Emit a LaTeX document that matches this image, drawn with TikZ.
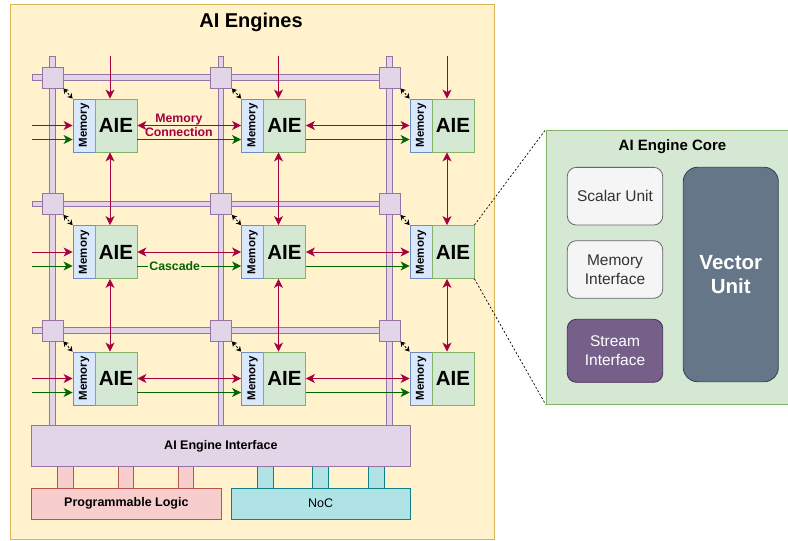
\documentclass[tikz,border=0pt]{standalone}
\usepackage{fontspec}
\setmainfont{Liberation Sans}
\usepackage{graphicx}
\usetikzlibrary{arrows.meta,calc}
\definecolor{bgY}{HTML}{FFF2CC}
\definecolor{bgYs}{HTML}{D6B656}
\definecolor{purpleF}{HTML}{E1D5E7}
\definecolor{purpleS}{HTML}{9673A6}
\definecolor{memF}{HTML}{DAE8FC}
\definecolor{memS}{HTML}{6C8EBF}
\definecolor{aieF}{HTML}{D5E8D4}
\definecolor{aieS}{HTML}{82B366}
\definecolor{redC}{HTML}{A50040}
\definecolor{grnC}{HTML}{006600}
\definecolor{plF}{HTML}{F8CECC}
\definecolor{plS}{HTML}{B85450}
\definecolor{nocF}{HTML}{B0E3E6}
\definecolor{nocS}{HTML}{0E8088}
\definecolor{grayF}{HTML}{F5F5F5}
\definecolor{grayS}{HTML}{666666}
\definecolor{grayT}{HTML}{333333}
\definecolor{strF}{HTML}{76608A}
\definecolor{strS}{HTML}{432D57}
\definecolor{vecF}{HTML}{647687}
\definecolor{vecS}{HTML}{314354}
\begin{document}
\begin{tikzpicture}[x=1pt,y=-1pt,
  >={Stealth[length=9pt,width=9pt,inset=2.5pt]},
  bar/.style={fill=purpleF,draw=purpleS,line width=0.8pt},
  sq/.style={rectangle,fill=purpleF,draw=purpleS,line width=0.8pt,minimum size=21pt,inner sep=0pt},
  mem/.style={rectangle,fill=memF,draw=memS,line width=0.8pt,minimum width=22pt,minimum height=53pt,inner sep=0pt,font=\bfseries\fontsize{11.5}{13}\selectfont},
  aie/.style={rectangle,fill=aieF,draw=aieS,line width=0.8pt,minimum width=42pt,minimum height=53pt,inner sep=0pt,font=\bfseries\fontsize{20.5}{24}\selectfont},
  redarr/.style={draw=redC,line width=1pt},
  grnarr/.style={draw=grnC,line width=1pt},
  blk/.style={draw=black,line width=0.9pt,dash pattern=on 2pt off 1.5pt,{Stealth[length=5pt,width=6pt]}-{Stealth[length=5pt,width=6pt]}},
  box/.style={rectangle,line width=0.8pt,inner sep=0pt},
  conn/.style={rectangle,line width=0.8pt,inner sep=0pt,minimum width=15.6pt,minimum height=21.3pt},
  lbl/.style={font=\bfseries\fontsize{12.3}{14}\selectfont,align=center,inner sep=1pt},
  zoomline/.style={draw=black,line width=0.7pt,dash pattern=on 2pt off 2pt}
]
\useasboundingbox (0,0) rectangle (788,541);
\fill[white] (0,0) rectangle (788,541);

% container
\node[box,fill=bgY,draw=bgYs,minimum width=484.5pt,minimum height=535.5pt] (engines) at (252.25,271.75) {};
\node[font=\bfseries\fontsize{20}{24}\selectfont] (title) at (251,22) {AI Engines};

% bars
\foreach \cc in {0,1,2}{
  \pgfmathsetmacro\xs{52.5+168.5*\cc}
  \draw[bar] (\xs-2.75,56) rectangle (\xs+2.75,425);
}
\foreach \rr in {0,1,2}{
  \pgfmathsetmacro\ys{77.5+126.5*\rr}
  \draw[bar] (32,\ys-2.75) rectangle (388.5,\ys+2.75);
}

% tiles
\foreach \rr in {1,2,3}{\foreach \cc in {1,2,3}{
  \pgfmathsetmacro\xs{52.5+168.5*(\cc-1)}
  \pgfmathsetmacro\ys{77.5+126.5*(\rr-1)}
  \node[sq] (s\rr\cc) at (\xs,\ys) {};
  \node[mem] (m\rr\cc) at (\xs+31.5,\ys+48) {\rotatebox{90}{Memory}};
  \node[aie] (a\rr\cc) at (\xs+63.5,\ys+48) {AIE};
  \draw[blk] (s\rr\cc.south east) -- (m\rr\cc.north west);
}}

% vertical stream arrows
\foreach \cc in {1,2,3}{
  \pgfmathsetmacro\xs{110+168.5*(\cc-1)}
  \coordinate (top\cc) at (\xs,56);
  \draw[redarr,->] (top\cc) -- (top\cc |- a1\cc.north);
  \draw[redarr,<->] (top\cc |- a1\cc.south) -- (top\cc |- a2\cc.north);
  \draw[redarr,<->] (top\cc |- a2\cc.south) -- (top\cc |- a3\cc.north);
}

% horizontal arrows
\foreach \rr in {1,2,3}{
  \draw[redarr,->] ($(m\rr1.west)+(-41,0)$) -- (m\rr1.west);
  \draw[grnarr,->] ($(m\rr1.west)+(-41,14)$) -- ($(m\rr1.west)+(0,14)$);
  \draw[redarr,<->] (a\rr1.east) -- (m\rr2.west);
  \draw[grnarr,->] ($(a\rr1.east)+(0,14)$) -- ($(m\rr2.west)+(0,14)$);
  \draw[redarr,<->] (a\rr2.east) -- (m\rr3.west);
  \draw[grnarr,->] ($(a\rr2.east)+(0,14)$) -- ($(m\rr3.west)+(0,14)$);
}
\path (a11.east) -- (m12.west) node[lbl,pos=0.4,text=redC] (memconn) {Memory\\Connection};
\path ($(a21.east)+(0,14)$) -- ($(m22.west)+(0,14)$) node[lbl,pos=0.36,fill=bgY,text=grnC] (cascade) {Cascade};

% interface and below
\node[conn,fill=plF,draw=plS] (pc1) at (65.5,477.3) {};
\node[conn,fill=plF,draw=plS] (pc2) at (126,477.3) {};
\node[conn,fill=plF,draw=plS] (pc3) at (186,477.3) {};
\node[conn,fill=nocF,draw=nocS] (nc1) at (265.5,477.3) {};
\node[conn,fill=nocF,draw=nocS] (nc2) at (320.5,477.3) {};
\node[conn,fill=nocF,draw=nocS] (nc3) at (376.2,477.3) {};
\node[box,fill=purpleF,draw=purpleS,minimum width=378.3pt,minimum height=41.7pt,font=\bfseries\fontsize{12.5}{14}\selectfont] (aiei) at (220.85,445.85) {AI Engine Interface};
\node[box,fill=plF,draw=plS,minimum width=189.3pt,minimum height=31pt,font=\bfseries\fontsize{12.5}{14}\selectfont] (pl) at (126.35,503.5) {Programmable Logic};
\node[box,fill=nocF,draw=nocS,minimum width=178.7pt,minimum height=31pt,font=\fontsize{12.5}{14}\selectfont] (noc) at (320.65,503.5) {NoC};

% core detail
\node[box,fill=aieF,draw=aieS,minimum width=244pt,minimum height=274pt] (core) at (668,267) {};
\node[font=\bfseries\fontsize{15}{18}\selectfont] (coretitle) at (672.5,147) {AI Engine Core};
\node[box,rounded corners=9pt,fill=grayF,draw=grayS,text=grayT,minimum width=95.4pt,minimum height=57.7pt,font=\fontsize{15.5}{18.5}\selectfont,align=center] (scalar) at (615,196.2) {Scalar Unit};
\node[box,rounded corners=9pt,fill=grayF,draw=grayS,text=grayT,minimum width=95.4pt,minimum height=57.6pt,font=\fontsize{15.5}{18.5}\selectfont,align=center] (memif) at (615,269.5) {Memory\\Interface};
\node[box,rounded corners=9pt,fill=strF,draw=strS,text=white,minimum width=95.4pt,minimum height=63pt,font=\fontsize{15.5}{18.5}\selectfont,align=center] (stream) at (615,350.8) {Stream\\Interface};
\node[box,rounded corners=14pt,fill=vecF,draw=vecS,text=white,minimum width=95pt,minimum height=214.4pt,font=\bfseries\fontsize{20.5}{24.5}\selectfont,align=center] (vector) at (730.8,274.5) {Vector\\Unit};

\draw[zoomline] (a23.north east) -- (core.north west);
\draw[zoomline] (a23.south east) -- (core.south west);
\end{tikzpicture}
\end{document}
